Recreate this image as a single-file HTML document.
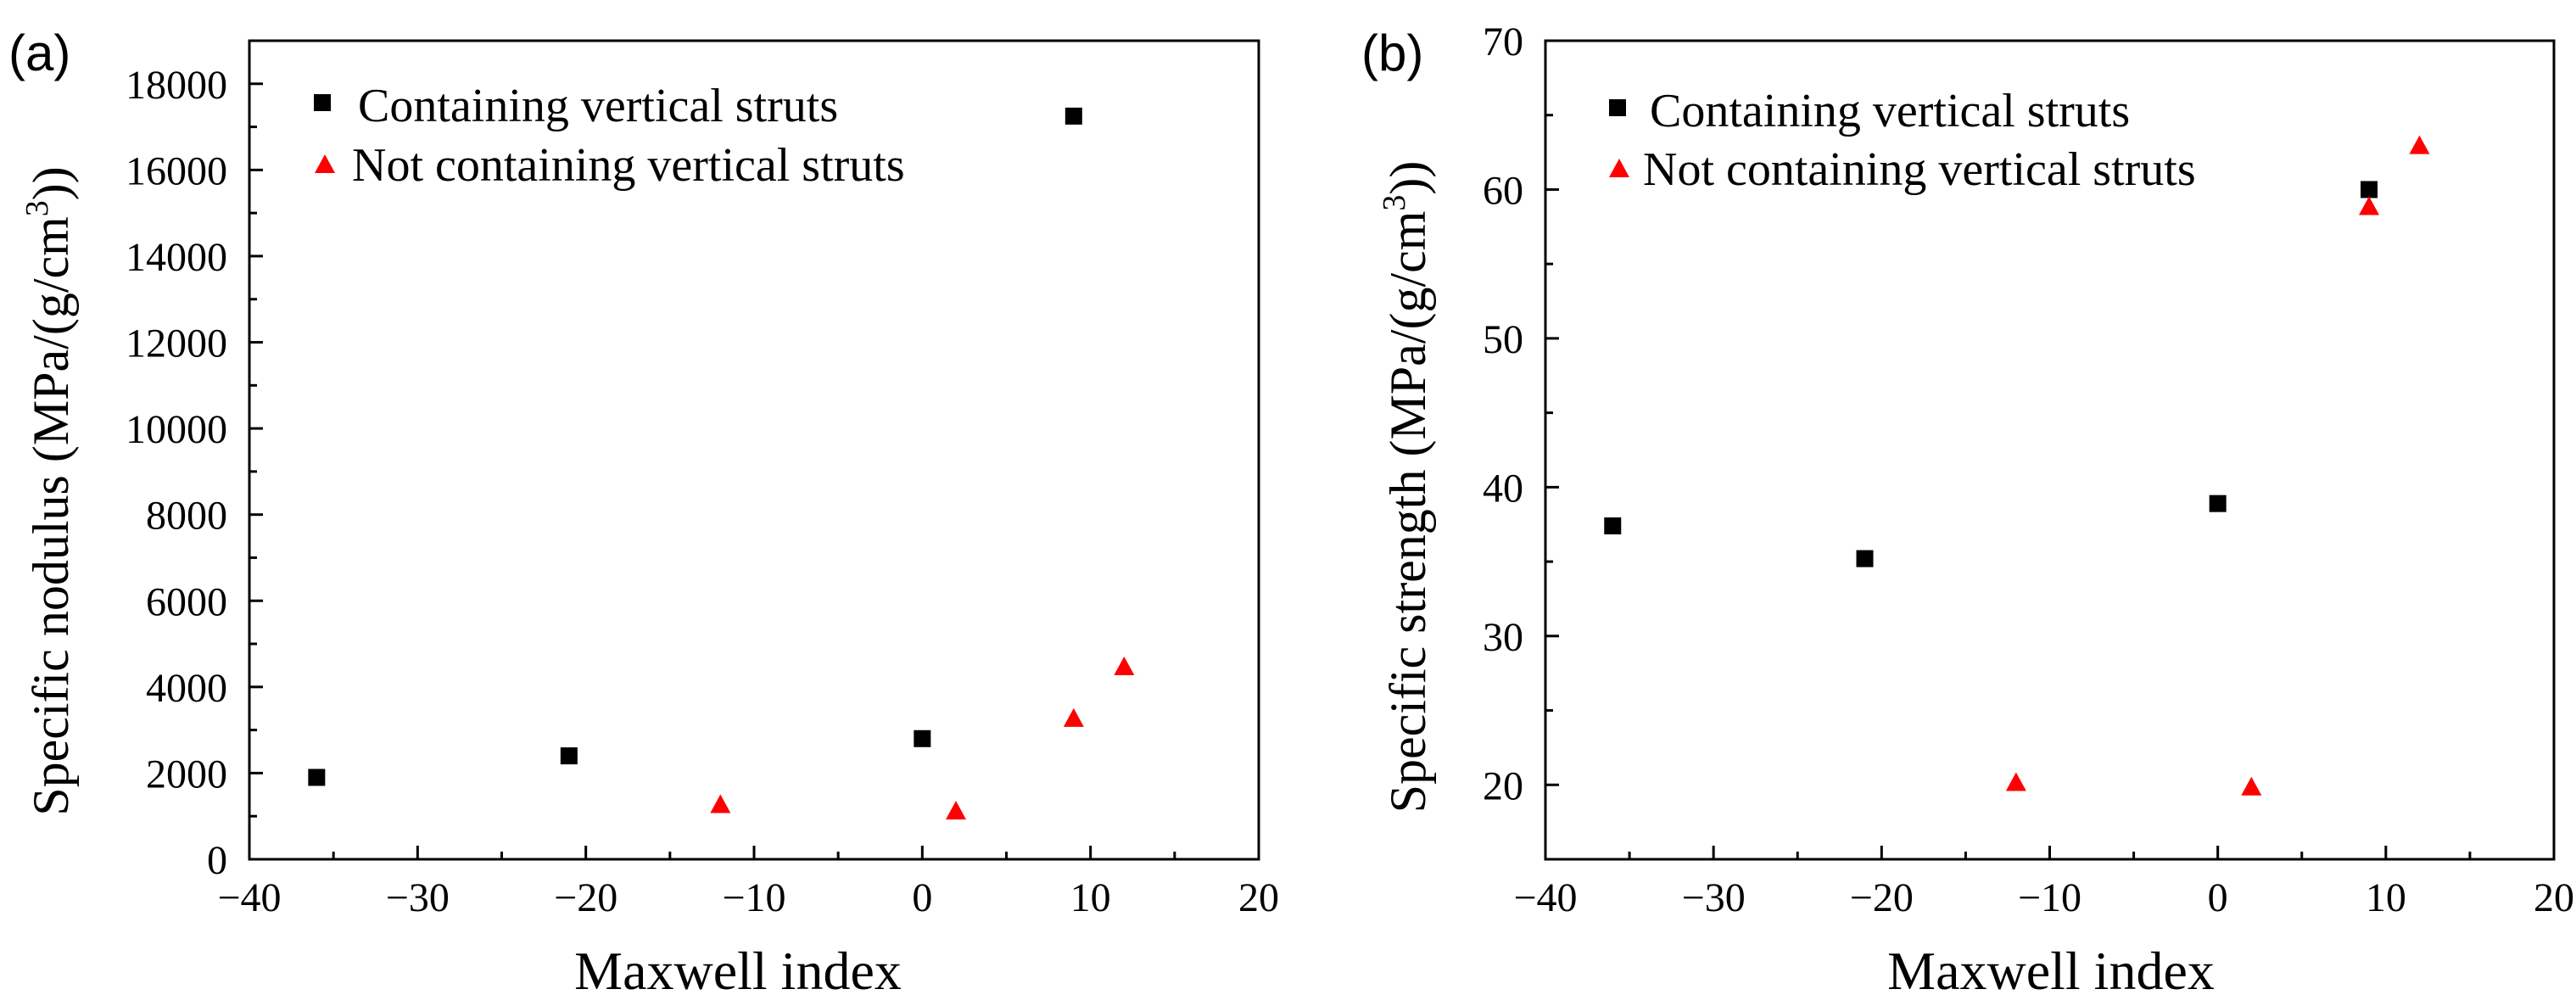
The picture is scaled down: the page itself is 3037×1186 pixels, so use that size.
<!DOCTYPE html>
<html><head><meta charset="utf-8"><style>
html,body{margin:0;padding:0;background:#fff;}
svg{display:block;}
text{font-family:"Liberation Serif",serif;fill:#000;}
</style></head><body>
<svg id="chart" width="3037" height="1186" viewBox="0 0 3037 1186" xmlns="http://www.w3.org/2000/svg"></svg>
<script>
const xA_black = [-36, -21, 0, 9];
const yA_black = [1900, 2400, 2800, 17250];
const xA_red = [-12, 2, 9, 12];
const yA_red = [1250, 1100, 3250, 4450];
const xB_black = [-36, -21, 0, 9];
const yB_black = [37.4, 35.2, 38.9, 60.0];
const xB_red = [-12, 2, 9, 12];
const yB_red = [20.1, 19.8, 58.8, 62.9];
const xTicks = [-40, -30, -20, -10, 0, 10, 20];
const yTicksA = [0, 2000, 4000, 6000, 8000, 10000, 12000, 14000, 16000, 18000];
const yTicksB = [20, 30, 40, 50, 60, 70];
const legendLabels = ["Containing vertical struts", "Not containing vertical struts"];

const NS = "http://www.w3.org/2000/svg";
const svg = document.getElementById('chart');
function mk(tag, attrs, parent, txt){
  const e = document.createElementNS(NS, tag);
  for (const k in attrs) e.setAttribute(k, attrs[k]);
  if (txt !== undefined) e.textContent = txt;
  (parent || svg).appendChild(e);
  return e;
}

function panel(cfg){
  const g = mk('g', {});
  
  
  const L=cfg.left,R=cfg.right,T=48,B=1013;
  const sx = v => L + (v - (-40)) / 60 * (R - L);
  const sy = v => B - (v - cfg.ymin) / (cfg.ymax - cfg.ymin) * (B - T);
  const frame = mk('rect', {x:L,y:T,width:R-L,height:B-T,fill:'none',stroke:'#000','stroke-width':3}, g);
  
  
  for (let v=-40; v<=20; v+=5){
    const major = v % 10 === 0;
    mk('line',{x1:sx(v),x2:sx(v),y1:B,y2:B-(major?16:9),stroke:'#000','stroke-width':3},g);
  }
  xTicks.forEach(v=>{
    const t = mk('text',{x:sx(v),y:1074,'font-size':48,'text-anchor':'middle'},g,(v<0?'\u2212'+(-v):String(v)));
    
    
  });
  for (let v=cfg.ymin; v<=cfg.ymax+1e-9; v+=cfg.minor){
    const major = Math.abs((v % cfg.major)) < 1e-6 || Math.abs((v % cfg.major)-cfg.major)<1e-6;
    mk('line',{x1:L,x2:L+(major?16:9),y1:sy(v),y2:sy(v),stroke:'#000','stroke-width':3},g);
  }
  cfg.yticks.forEach(v=>{
    const t = mk('text',{x:L-26,y:sy(v)+17,'font-size':48,'text-anchor':'end'},g,String(v));
    
    
  });
  const xt = mk('text',{x:cfg.xtx,y:1166,'font-size':64,'text-anchor':'middle'},g,'Maxwell index');
  
  
  const yt = mk('text',{x:0,y:0,'font-size':60,'text-anchor':'middle',transform:`translate(${cfg.ytx},${cfg.yty}) rotate(-90)`},g);
  
  
  yt.appendChild(document.createTextNode(cfg.ytitle+' (MPa/(g/cm'));
  mk('tspan',{'font-size':38,dy:-24},yt,'3');
  mk('tspan',{dy:24},yt,'))');
  const pl = mk('text',{x:cfg.plx,y:83,'font-size':60,style:'font-family:"Liberation Sans",sans-serif'},g,cfg.label);
  
  
  const sq = (x,y,p)=>{ const r=mk('rect',{x:x-10,y:y-10,width:20,height:20,fill:'#000'},p);   };
  const tri = (x,y,p)=>{ const r=mk('polygon',{points:`${x},${y-13} ${x+12},${y+9} ${x-12},${y+9}`,fill:'#f00'},p);   };
  cfg.bx.forEach((x,i)=>sq(sx(x),sy(cfg.by[i]),g));
  cfg.rx.forEach((x,i)=>tri(sx(x),sy(cfg.ry[i]),g));
  const lg = mk('g',{},g);
  
  
  sq(cfg.lg.sx, cfg.lg.sy, lg);
  const l1 = mk('text',{x:cfg.lg.tx1,y:cfg.lg.sy+22,'font-size':56},lg,legendLabels[0]);
  
  
  tri(cfg.lg.tx, cfg.lg.ty, lg);
  const l2 = mk('text',{x:cfg.lg.tx2,y:cfg.lg.ty+18,'font-size':56},lg,legendLabels[1]);
  
  
}

panel({name:'panel-a-modulus',left:294,right:1484,ymin:0,ymax:19000,minor:1000,major:2000,yticks:yTicksA,
  xtx:870,ytx:80,yty:579,ytitle:'Specific nodulus',plx:10,label:'(a)',
  bx:xA_black,by:yA_black,rx:xA_red,ry:yA_red,
  lg:{sx:380,sy:121,tx1:422,tx:383,ty:195,tx2:415}});
panel({name:'panel-b-strength',left:1822,right:3011,ymin:15,ymax:70,minor:5,major:10,yticks:yTicksB,
  xtx:2418,ytx:1680,yty:574,ytitle:'Specific strength',plx:1605,label:'(b)',
  bx:xB_black,by:yB_black,rx:xB_red,ry:yB_red,
  lg:{sx:1907,sy:127,tx1:1945,tx:1909,ty:200,tx2:1937}});
</script>
</body></html>
